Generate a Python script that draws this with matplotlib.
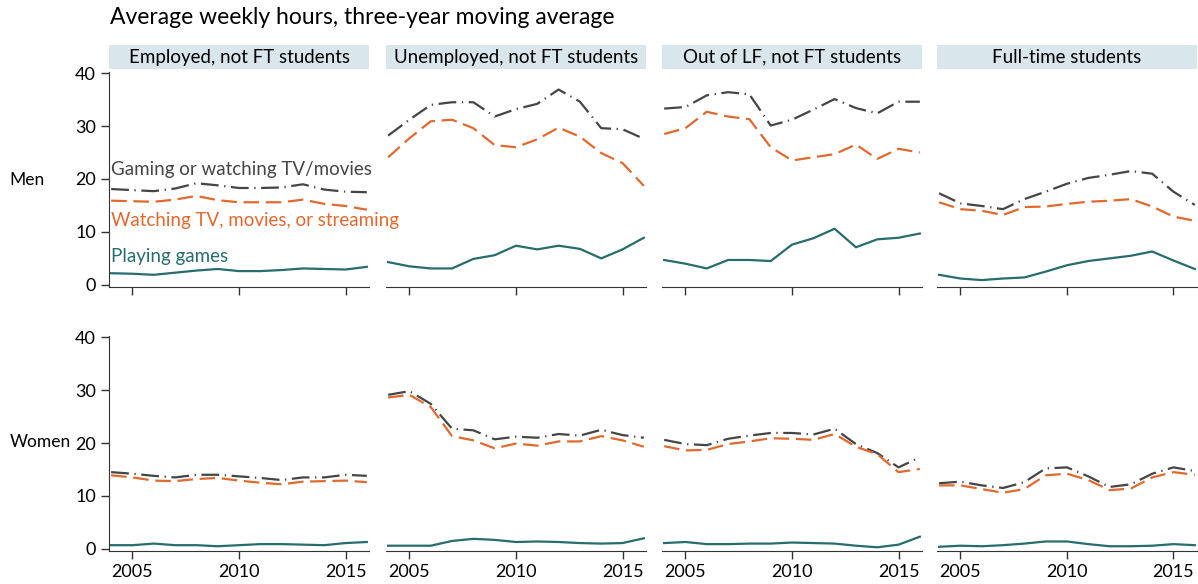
import numpy as np
import matplotlib
matplotlib.use("Agg")
import matplotlib.pyplot as plt
from matplotlib.patches import Rectangle

plt.rcParams['font.family'] = ['Lato', 'DejaVu Sans']

years = list(range(2004, 2017))
groups = ["Employed, not FT students", "Unemployed, not FT students",
          "Out of LF, not FT students", "Full-time students"]
rows = ["Men", "Women"]

# Men
men_gaming_tv = [
    [18.1, 17.9, 17.7, 18.2, 19.2, 18.8, 18.3, 18.3, 18.4, 19.0, 18.0, 17.6, 17.5],
    [28.2, 31.2, 34.0, 34.5, 34.5, 31.8, 33.2, 34.2, 36.9, 34.6, 29.6, 29.4, 27.6],
    [33.3, 33.6, 35.8, 36.4, 36.0, 30.1, 31.2, 33.1, 35.1, 33.4, 32.4, 34.6, 34.6],
    [17.3, 15.4, 14.9, 14.3, 16.2, 17.6, 19.1, 20.2, 20.8, 21.5, 21.0, 17.6, 15.1],
]
men_tv = [
    [15.9, 15.8, 15.7, 16.1, 16.8, 16.0, 15.6, 15.6, 15.6, 16.1, 15.3, 14.9, 14.2],
    [24.1, 27.7, 30.9, 31.2, 29.6, 26.4, 26.0, 27.5, 29.7, 28.0, 24.9, 23.0, 18.7],
    [28.5, 29.6, 32.7, 31.8, 31.3, 26.0, 23.5, 24.1, 24.7, 26.5, 23.8, 25.7, 25.0],
    [15.6, 14.3, 14.0, 13.2, 14.7, 14.8, 15.3, 15.7, 15.9, 16.2, 14.8, 12.9, 12.1],
]
men_games = [
    [2.2, 2.1, 1.9, 2.3, 2.7, 3.0, 2.6, 2.6, 2.8, 3.1, 3.0, 2.9, 3.4],
    [4.3, 3.5, 3.1, 3.1, 4.9, 5.6, 7.4, 6.7, 7.4, 6.8, 5.0, 6.7, 8.9],
    [4.7, 4.0, 3.1, 4.7, 4.7, 4.5, 7.6, 8.8, 10.6, 7.1, 8.6, 8.9, 9.7],
    [1.9, 1.2, 0.9, 1.2, 1.4, 2.5, 3.7, 4.5, 5.0, 5.5, 6.3, 4.6, 3.0],
]

# Women
women_gaming_tv = [
    [14.5, 14.2, 13.8, 13.5, 14.0, 14.0, 13.7, 13.4, 13.0, 13.5, 13.5, 14.0, 13.8],
    [29.1, 29.8, 27.4, 22.7, 22.4, 20.7, 21.2, 21.0, 21.7, 21.4, 22.5, 21.5, 21.0],
    [20.6, 19.8, 19.6, 20.8, 21.4, 21.9, 21.9, 21.6, 22.7, 19.8, 18.1, 15.4, 17.3],
    [12.4, 12.7, 12.0, 11.5, 12.6, 15.2, 15.4, 13.7, 11.7, 12.2, 14.2, 15.4, 14.7],
]
women_tv = [
    [13.9, 13.5, 12.9, 12.8, 13.2, 13.4, 12.9, 12.5, 12.2, 12.7, 12.8, 12.9, 12.6],
    [28.6, 29.1, 26.8, 21.3, 20.5, 19.0, 19.9, 19.5, 20.3, 20.3, 21.3, 20.5, 19.3],
    [19.4, 18.6, 18.7, 19.8, 20.3, 20.9, 20.8, 20.6, 21.7, 19.3, 17.9, 14.5, 15.1],
    [12.0, 12.0, 11.3, 10.6, 11.3, 13.9, 14.2, 13.0, 11.1, 11.4, 13.5, 14.5, 14.0],
]
women_games = [
    [0.7, 0.7, 1.0, 0.7, 0.7, 0.5, 0.7, 0.9, 0.9, 0.8, 0.7, 1.1, 1.3],
    [0.6, 0.6, 0.6, 1.5, 1.9, 1.7, 1.3, 1.4, 1.3, 1.1, 1.0, 1.1, 2.0],
    [1.1, 1.3, 0.9, 0.9, 1.0, 1.0, 1.2, 1.1, 1.0, 0.6, 0.3, 0.8, 2.3],
    [0.4, 0.6, 0.5, 0.7, 1.0, 1.4, 1.4, 0.9, 0.5, 0.5, 0.6, 0.9, 0.7],
]

series_labels = ["Gaming or watching TV/movies", "Watching TV, movies, or streaming", "Playing games"]

c_gray = '#454545'
c_orange = '#e2692e'
c_teal = '#266d6c'
c_strip = '#d9e7ed'

data = {
    "Men": (men_gaming_tv, men_tv, men_games),
    "Women": (women_gaming_tv, women_tv, women_games),
}

fig = plt.figure(figsize=(11.98, 5.84), dpi=100)

lefts = [0.0910, 0.3222, 0.5526, 0.7821]
width = 0.2170
bottoms = [0.5086, 0.0565]
height = 0.368
row_label_y = [0.692, 0.243]

for r, row in enumerate(rows):
    g_tv, tv, gm = data[row]
    for c in range(4):
        ax = fig.add_axes([lefts[c], bottoms[r], width, height])
        ax.patch.set_visible(False)
        ax.plot(years, g_tv[c], color=c_gray, lw=1.6, dashes=(8, 2.5, 0.6, 2.5))
        ax.plot(years, tv[c], color=c_orange, lw=1.6, dashes=(7, 3))
        ax.plot(years, gm[c], color=c_teal, lw=1.6)
        ax.set_xlim(2003.9, 2016.1)
        ax.set_ylim(-0.4, 40.2)
        ax.set_xticks([2005, 2010, 2015])
        ax.set_yticks([0, 10, 20, 30, 40])
        for s in ['top', 'right']:
            ax.spines[s].set_visible(False)
        ax.spines['bottom'].set_color('#333333')
        ax.spines['left'].set_color('#333333')
        ax.tick_params(colors='#333333', labelcolor='black', labelsize=13, length=6, width=1)
        if c > 0:
            ax.spines['left'].set_visible(False)
            ax.tick_params(axis='y', left=False, labelleft=False)
        if r == 0:
            ax.tick_params(axis='x', labelbottom=False)
            ax.add_patch(Rectangle((0, 1.012), 1, 0.115, transform=ax.transAxes,
                                   facecolor=c_strip, edgecolor='none', clip_on=False))
            ax.text(0.5, 1.07, groups[c], transform=ax.transAxes, ha='center',
                    va='center', fontsize=13.5, color='black')
        if c == 0:
            fig.text(0.008, row_label_y[r], row, fontsize=12.5, va='center', ha='left')
        if r == 0 and c == 0:
            ax.text(2004.0, 21.8, series_labels[0], color=c_gray, fontsize=13.5, va='center')
            ax.text(2004.0, 12.1, series_labels[1], color=c_orange, fontsize=13.5, va='center')
            ax.text(2004.0, 5.3, series_labels[2], color=c_teal, fontsize=13.5, va='center')

fig.text(0.0918, 0.97, "Average weekly hours, three-year moving average",
         fontsize=16.5, va='center', ha='left')

fig.savefig("out.png", dpi=100)
